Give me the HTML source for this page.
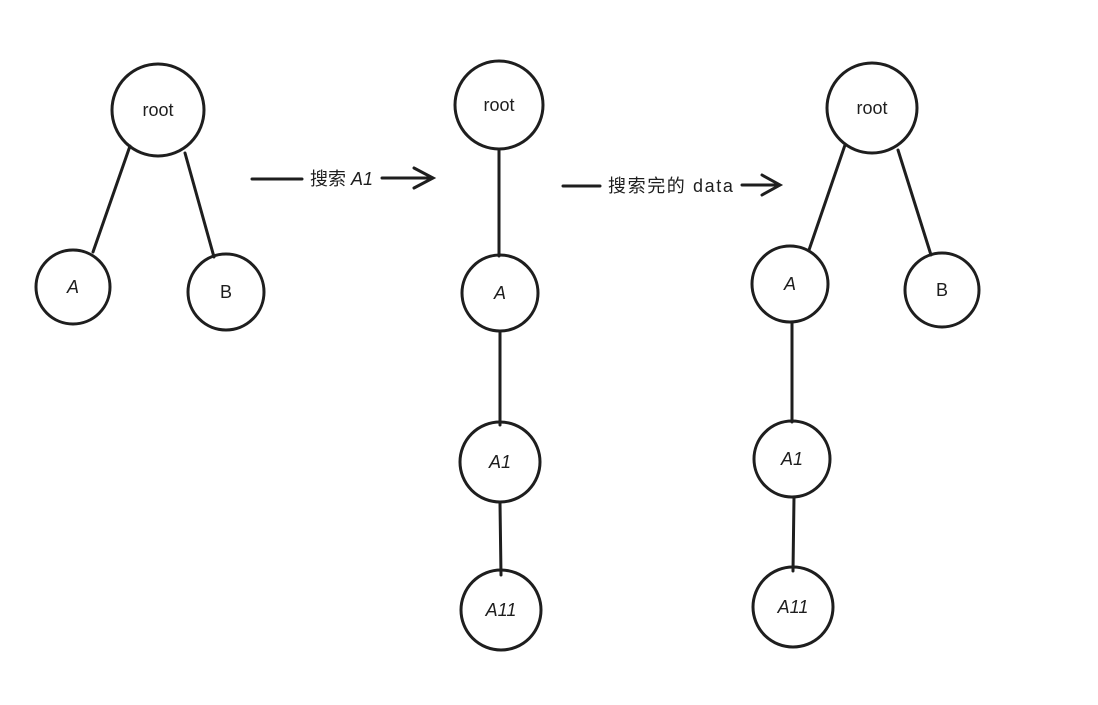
<!DOCTYPE html>
<html><head><meta charset="utf-8"><style>
html,body{margin:0;padding:0;background:#fff;}
svg{display:block;}
text{font-family:"Liberation Sans","Noto Sans CJK SC",sans-serif;font-size:18px;fill:#1e1e1e;}
</style></head><body>
<svg width="1098" height="705" viewBox="0 0 1098 705" xmlns="http://www.w3.org/2000/svg">
<g fill="none" stroke="#1e1e1e" stroke-width="3" stroke-linecap="round">
<circle cx="158" cy="110" r="46"/>
<circle cx="73" cy="287" r="37"/>
<circle cx="226" cy="292" r="38"/>
<line x1="130" y1="146" x2="93" y2="252"/>
<line x1="185" y1="153" x2="214" y2="257"/>
<line x1="252" y1="179" x2="302" y2="179"/>
<line x1="382" y1="178" x2="432" y2="178"/>
<polyline points="414,168 433,178 414,188"/>
<circle cx="499" cy="105" r="44"/>
<line x1="499" y1="150" x2="499" y2="256"/>
<circle cx="500" cy="293" r="38"/>
<line x1="500" y1="331" x2="500" y2="425"/>
<circle cx="500" cy="462" r="40"/>
<line x1="500" y1="503" x2="501" y2="575"/>
<circle cx="501" cy="610" r="40"/>
<line x1="563" y1="186" x2="600" y2="186"/>
<line x1="742" y1="185" x2="779" y2="185"/>
<polyline points="762,175 780,185 762,195"/>
<circle cx="872" cy="108" r="45"/>
<circle cx="790" cy="284" r="38"/>
<circle cx="942" cy="290" r="37"/>
<line x1="845" y1="145" x2="809" y2="250"/>
<line x1="898" y1="150" x2="931" y2="255"/>
<line x1="792" y1="322" x2="792" y2="422"/>
<circle cx="792" cy="459" r="38"/>
<line x1="794" y1="497" x2="793" y2="571"/>
<circle cx="793" cy="607" r="40"/>
</g>
<g text-anchor="middle">
<text x="158" y="116">root</text>
<text x="73" y="293" font-style="italic">A</text>
<text x="226" y="298">B</text>
<text x="499" y="111">root</text>
<text x="500" y="299" font-style="italic">A</text>
<text x="500" y="468" font-style="italic">A1</text>
<text x="501" y="616" font-style="italic">A11</text>
<text x="872" y="114">root</text>
<text x="790" y="290" font-style="italic">A</text>
<text x="942" y="296">B</text>
<text x="792" y="465" font-style="italic">A1</text>
<text x="793" y="613" font-style="italic">A11</text>
</g>
<text x="310" y="185">搜索 <tspan font-style="italic">A1</tspan></text>
<text x="608" y="192" letter-spacing="1.6">搜索完的 data</text>
</svg>
</body></html>
